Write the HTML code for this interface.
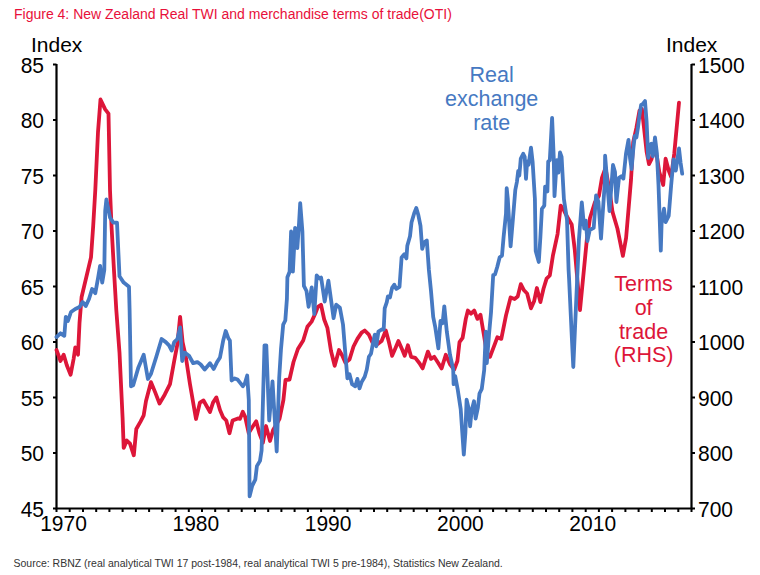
<!DOCTYPE html>
<html><head><meta charset="utf-8"><style>
html,body{margin:0;padding:0;background:#fff;width:760px;height:575px;overflow:hidden}
svg{display:block;font-family:"Liberation Sans",sans-serif}
.ax{font-size:21px;fill:#000}
.ix{font-size:21px;fill:#000}
.lg{font-size:21.5px}
.tt{font-size:14px;fill:#E8103A}
.src{font-size:10.5px;fill:#333}
</style></head><body>
<svg width="760" height="575" viewBox="0 0 760 575">
<text x="14" y="19" class="tt">Figure 4: New Zealand Real TWI and merchandise terms of trade(OTI)</text>
<text x="13.5" y="567" class="src">Source: RBNZ (real analytical TWI 17 post-1984, real analytical TWI 5 pre-1984), Statistics New Zealand.</text>
<path d="M56.5 64.0V508.5H691.5V64.0" fill="none" stroke="#000" stroke-width="2.2"/>
<path d="M53.0 64.5H56.5 M691.5 64.5H695.0 M53.0 120.0H56.5 M691.5 120.0H695.0 M53.0 175.5H56.5 M691.5 175.5H695.0 M53.0 231.0H56.5 M691.5 231.0H695.0 M53.0 286.5H56.5 M691.5 286.5H695.0 M53.0 342.0H56.5 M691.5 342.0H695.0 M53.0 397.5H56.5 M691.5 397.5H695.0 M53.0 453.0H56.5 M691.5 453.0H695.0 M53.0 508.5H56.5 M691.5 508.5H695.0 M56.5 508.5V512.0 M69.7 508.5V512.0 M83.0 508.5V512.0 M96.2 508.5V512.0 M109.4 508.5V512.0 M122.6 508.5V512.0 M135.9 508.5V512.0 M149.1 508.5V512.0 M162.3 508.5V512.0 M175.6 508.5V512.0 M188.8 508.5V512.0 M202.0 508.5V512.0 M215.2 508.5V512.0 M228.5 508.5V512.0 M241.7 508.5V512.0 M254.9 508.5V512.0 M268.2 508.5V512.0 M281.4 508.5V512.0 M294.6 508.5V512.0 M307.9 508.5V512.0 M321.1 508.5V512.0 M334.3 508.5V512.0 M347.5 508.5V512.0 M360.8 508.5V512.0 M374.0 508.5V512.0 M387.2 508.5V512.0 M400.5 508.5V512.0 M413.7 508.5V512.0 M426.9 508.5V512.0 M440.1 508.5V512.0 M453.4 508.5V512.0 M466.6 508.5V512.0 M479.8 508.5V512.0 M493.1 508.5V512.0 M506.3 508.5V512.0 M519.5 508.5V512.0 M532.8 508.5V512.0 M546.0 508.5V512.0 M559.2 508.5V512.0 M572.4 508.5V512.0 M585.7 508.5V512.0 M598.9 508.5V512.0 M612.1 508.5V512.0 M625.4 508.5V512.0 M638.6 508.5V512.0 M651.8 508.5V512.0 M665.0 508.5V512.0 M678.3 508.5V512.0 M691.5 508.5V512.0" stroke="#000" stroke-width="2"/>
<text transform="translate(44 72.8) scale(1 1.07)" text-anchor="end" class="ax">85</text>
<text transform="translate(44 128.3) scale(1 1.07)" text-anchor="end" class="ax">80</text>
<text transform="translate(44 183.8) scale(1 1.07)" text-anchor="end" class="ax">75</text>
<text transform="translate(44 239.3) scale(1 1.07)" text-anchor="end" class="ax">70</text>
<text transform="translate(44 294.8) scale(1 1.07)" text-anchor="end" class="ax">65</text>
<text transform="translate(44 350.3) scale(1 1.07)" text-anchor="end" class="ax">60</text>
<text transform="translate(44 405.8) scale(1 1.07)" text-anchor="end" class="ax">55</text>
<text transform="translate(44 461.3) scale(1 1.07)" text-anchor="end" class="ax">50</text>
<text transform="translate(44 516.8) scale(1 1.07)" text-anchor="end" class="ax">45</text>
<text transform="translate(698 72.8) scale(1 1.07)" class="ax">1500</text>
<text transform="translate(698 128.3) scale(1 1.07)" class="ax">1400</text>
<text transform="translate(698 183.8) scale(1 1.07)" class="ax">1300</text>
<text transform="translate(698 239.3) scale(1 1.07)" class="ax">1200</text>
<text transform="translate(698 294.8) scale(1 1.07)" class="ax">1100</text>
<text transform="translate(698 350.3) scale(1 1.07)" class="ax">1000</text>
<text transform="translate(698 405.8) scale(1 1.07)" class="ax">900</text>
<text transform="translate(698 461.3) scale(1 1.07)" class="ax">800</text>
<text transform="translate(698 516.8) scale(1 1.07)" class="ax">700</text>
<text transform="translate(63.5 530.8) scale(1 1.07)" text-anchor="middle" class="ax">1970</text>
<text transform="translate(195.8 530.8) scale(1 1.07)" text-anchor="middle" class="ax">1980</text>
<text transform="translate(328.1 530.8) scale(1 1.07)" text-anchor="middle" class="ax">1990</text>
<text transform="translate(460.4 530.8) scale(1 1.07)" text-anchor="middle" class="ax">2000</text>
<text transform="translate(592.7 530.8) scale(1 1.07)" text-anchor="middle" class="ax">2010</text>
<text x="31" y="52" class="ix">Index</text>
<text x="666" y="52" class="ix">Index</text>
<text fill="#4679C2" text-anchor="middle" class="lg"><tspan x="491.7" y="81.5">Real</tspan><tspan x="491.7" y="105.5">exchange</tspan><tspan x="491.7" y="129.5">rate</tspan></text>
<text fill="#DD1639" text-anchor="middle" class="lg"><tspan x="643.6" y="290.8">Terms</tspan><tspan x="643.6" y="314.6">of</tspan><tspan x="643.6" y="338.5">trade</tspan><tspan x="643.6" y="362.3">(RHS)</tspan></text>
<polyline points="56.5,350.0 60.5,361.0 63.7,354.7 66.8,365.3 70.6,374.7 73.6,359.0 75.3,347.4 78.0,354.7 79.5,323.2 81.6,297.0 91.0,257.4 93.2,225.8 95.3,190.0 98.0,132.0 100.5,99.5 105.2,109.4 108.5,113.6 110.0,190.0 111.5,225.8 114.2,274.2 116.3,310.0 119.5,352.6 122.6,417.9 123.7,447.9 126.8,440.5 130.0,443.7 133.8,455.3 136.3,429.0 140.5,421.6 143.7,415.3 146.0,401.0 151.0,382.1 155.3,392.6 159.5,403.5 164.7,394.7 170.0,384.2 174.2,361.0 177.4,344.2 180.1,316.8 182.6,342.1 185.8,356.8 190.0,384.2 196.0,419.0 199.9,402.6 203.5,400.5 210.0,412.0 213.0,402.6 216.4,397.4 220.0,410.0 223.2,417.4 226.3,420.5 229.5,433.2 232.6,420.5 237.9,418.4 240.0,418.9 242.8,411.8 245.1,416.6 248.7,433.1 252.6,426.8 256.2,421.3 259.3,433.1 262.9,442.6 266.0,426.0 270.0,441.0 273.1,430.0 276.8,423.7 279.5,418.9 283.4,400.0 285.5,380.0 289.5,379.5 293.5,362.0 297.9,349.0 303.2,340.5 307.4,326.8 311.6,321.6 315.4,313.2 317.9,306.8 321.0,304.7 324.2,319.5 327.4,327.9 331.0,351.0 334.7,365.8 339.0,350.0 342.1,355.3 345.3,362.6 349.5,359.5 353.5,346.5 357.4,338.9 361.6,332.6 364.7,330.5 368.9,334.7 373.2,344.2 377.4,344.2 381.6,341.0 385.8,330.5 388.9,342.1 392.1,355.8 395.3,348.4 398.4,341.0 402.6,350.5 404.7,355.8 407.9,345.3 411.1,356.8 415.3,357.9 419.5,363.2 422.6,368.4 427.9,351.6 431.0,358.9 434.2,356.8 438.4,363.2 441.6,368.4 445.8,354.7 450.0,364.2 454.2,369.5 457.4,361.0 459.5,342.1 462.6,337.9 465.8,318.9 467.9,310.5 471.0,313.7 474.2,310.5 477.4,318.9 480.5,314.7 483.7,333.7 486.8,352.6 490.0,356.8 493.2,348.4 495.0,343.6 497.3,337.3 501.3,338.9 506.0,315.4 510.6,297.4 514.6,299.0 517.7,296.6 520.8,284.1 524.0,290.3 527.1,293.5 531.0,308.3 534.1,301.3 536.9,288.0 540.4,302.1 543.5,288.8 546.6,278.6 549.8,275.5 552.9,255.7 557.6,233.8 560.7,205.6 563.9,210.3 567.0,216.6 571.7,224.4 574.8,250.0 580.0,310.0 586.8,240.0 590.0,218.0 594.9,202.2 598.9,196.0 602.0,177.6 605.5,168.0 609.5,190.0 612.5,211.9 617.4,228.5 622.9,255.8 626.1,237.9 631.0,180.0 633.2,142.1 636.4,127.9 639.5,110.5 641.9,109.0 644.2,129.5 646.6,151.6 649.0,164.2 651.4,159.5 653.7,150.0 656.9,156.4 659.3,172.1 663.2,185.0 665.6,158.7 668.7,170.6 671.1,176.9 674.3,153.2 679.0,102.6" fill="none" stroke="#DD1639" stroke-width="3.8" stroke-linejoin="round" stroke-linecap="round"/>
<polyline points="56.5,337.0 60.5,333.3 64.3,335.8 65.8,316.8 67.9,321.0 71.0,312.0 75.3,309.0 79.5,307.0 82.6,302.0 85.8,306.0 89.0,299.0 92.1,289.0 95.3,293.2 98.0,278.4 100.1,265.8 102.2,282.6 104.3,270.0 105.2,211.0 106.4,199.5 110.0,217.4 113.2,222.6 117.0,222.6 119.5,276.3 123.7,282.6 129.0,286.8 129.6,310.0 131.0,386.3 133.2,385.3 138.4,367.4 143.7,354.7 147.9,379.0 151.0,373.7 156.3,356.8 161.6,339.0 165.8,342.1 169.0,345.3 171.7,350.5 174.2,342.1 177.4,339.0 180.1,327.4 182.2,361.0 184.7,352.6 189.0,355.8 193.2,363.2 197.4,362.1 200.5,364.2 204.7,369.5 210.0,363.2 213.7,369.0 216.8,362.6 220.0,357.4 223.2,340.5 225.7,331.0 228.4,338.4 229.9,340.5 231.6,380.5 234.7,378.4 237.5,379.5 240.0,382.6 242.9,386.2 244.9,383.4 247.2,375.5 248.8,400.0 249.6,496.3 252.2,485.9 255.3,479.7 256.9,466.1 260.0,460.9 261.6,450.4 264.5,345.4 266.3,345.4 269.2,420.5 272.5,381.4 276.7,451.5 279.2,378.0 281.0,349.0 283.2,324.7 285.3,320.5 286.9,299.0 287.4,277.2 289.6,271.7 291.1,231.5 292.9,271.7 295.1,227.9 297.3,248.0 299.1,222.4 300.2,203.2 302.4,231.5 303.9,285.9 306.5,291.0 308.6,306.8 311.7,287.4 314.3,314.0 316.7,275.4 319.5,278.6 321.1,277.5 324.7,301.5 328.4,280.7 333.6,318.2 336.2,304.7 339.9,307.8 343.0,324.5 345.3,353.2 347.4,378.4 349.5,374.2 352.1,384.2 355.3,386.3 357.4,378.9 359.5,388.4 361.6,382.1 364.7,376.8 366.8,369.5 368.9,356.8 371.0,353.7 373.2,342.1 374.8,334.7 376.3,346.3 378.4,331.6 381.6,329.5 383.7,329.5 384.7,308.4 386.8,302.1 387.9,296.3 390.0,297.4 392.1,287.9 394.2,284.7 396.3,288.9 399.5,286.8 401.6,257.4 404.3,254.2 406.4,258.4 407.3,245.8 410.0,236.3 411.5,222.6 414.2,213.2 416.3,207.9 418.4,215.3 420.5,225.8 422.2,248.9 424.1,242.6 426.8,240.5 428.9,270.0 431.0,291.0 433.2,316.8 435.3,327.4 438.4,348.4 440.5,321.0 442.6,323.2 444.3,306.3 446.8,331.6 450.0,354.7 453.2,369.5 453.6,384.1 455.2,376.0 457.6,388.8 460.7,409.1 462.3,432.6 463.8,454.5 465.4,432.6 466.6,399.7 468.8,409.1 470.1,426.3 471.6,410.7 474.0,401.3 475.6,418.5 477.9,407.6 479.5,393.5 481.8,388.8 484.2,370.0 485.8,331.6 486.8,363.2 488.9,335.8 491.0,312.6 493.2,275.0 495.0,274.5 497.3,266.7 499.7,257.3 502.0,255.7 503.6,237.0 506.0,213.5 506.7,188.2 507.8,199.0 510.6,246.3 513.0,218.2 515.3,190.0 516.9,182.0 518.2,171.0 519.3,175.7 520.8,158.5 523.2,153.8 524.7,156.9 526.0,178.9 527.1,161.6 528.6,164.8 531.0,147.6 532.6,161.6 534.9,199.0 535.7,251.0 538.8,262.0 540.4,237.0 541.9,208.8 544.3,205.6 545.1,186.7 547.4,191.4 548.2,161.6 549.8,160.1 552.1,117.8 553.7,156.9 554.5,196.1 556.8,160.1 558.4,172.6 560.0,152.3 561.6,156.9 563.9,199.0 567.0,219.7 568.6,270.0 569.1,279.2 571.6,332.6 573.3,367.0 578.9,240.0 581.8,202.4 584.2,228.5 585.8,220.6 587.4,241.1 589.7,230.0 593.7,227.8 596.1,195.3 598.4,201.6 601.0,238.7 604.8,182.6 605.1,155.7 609.5,211.0 613.0,165.0 615.0,172.0 616.4,202.0 619.0,177.9 621.3,176.3 623.4,178.6 626.0,153.6 628.5,139.8 630.0,157.9 631.6,169.0 633.2,150.0 634.8,135.8 636.4,137.4 637.9,127.9 639.5,115.3 641.1,105.0 642.7,104.2 645.0,101.1 646.6,121.6 648.2,157.9 649.8,145.3 651.4,143.7 652.9,156.4 655.0,137.4 656.9,153.2 658.5,185.0 660.8,250.6 661.6,223.7 664.0,208.7 665.6,222.1 668.7,215.8 671.1,185.8 673.5,159.5 675.8,170.6 679.0,148.5 680.6,162.7 682.2,173.7" fill="none" stroke="#4679C2" stroke-width="3.8" stroke-linejoin="round" stroke-linecap="round"/>
</svg></body></html>
